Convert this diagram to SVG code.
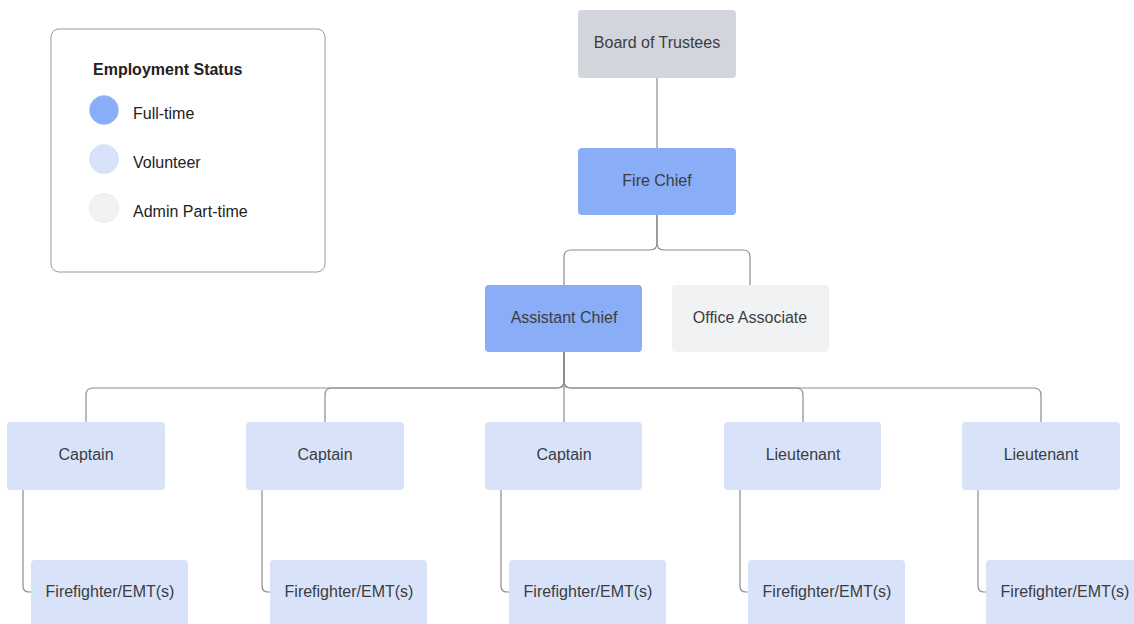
<svg xmlns="http://www.w3.org/2000/svg" width="1134" height="624" viewBox="0 0 1134 624">
<style>
.box{stroke:none}
.ft{fill:#8AADF7}
.vol{fill:#D8E3FA}
.adm{fill:#F1F2F4}
.brd{fill:#D2D5DC}
.lbl{font-family:"Liberation Sans",Arial,sans-serif;font-size:16px;fill:#3C3C40;text-anchor:middle}
.conn path{fill:none;stroke:#8C8C8C;stroke-width:1.2}
.leg{font-family:"Liberation Sans",Arial,sans-serif;font-size:16px;fill:#222}
</style>
<rect width="1134" height="624" fill="#FFFFFF"/>
<g id="legend">
<rect x="51" y="29" width="274" height="243" rx="8" fill="#FFFFFF" stroke="#9A9A9A" stroke-width="1"/>
<text x="93" y="75" class="leg" font-weight="bold" font-size="15.7">Employment Status</text>
<circle cx="104" cy="110" r="14.5" class="ft" stroke="#9FB8EE" stroke-width="0.5"/>
<text x="133" y="119" class="leg">Full-time</text>
<circle cx="104" cy="159" r="14.5" class="vol" stroke="#C6D2EC" stroke-width="0.5"/>
<text x="133" y="168" class="leg">Volunteer</text>
<circle cx="104" cy="208" r="14.5" class="adm" stroke="#DADBDE" stroke-width="0.5"/>
<text x="133" y="217" class="leg">Admin Part-time</text>
</g>
<g class="conn" id="connectors">
<path d="M657,78 V148"/>
<path d="M657,215 V243 Q657,250 650,250 H571 Q564,250 564,257 V285"/>
<path d="M657,215 V243 Q657,250 664,250 H743 Q750,250 750,257 V285"/>
<path d="M564,352 V381 Q564,388 557,388 H93 Q86,388 86,395 V422"/>
<path d="M564,352 V381 Q564,388 557,388 H332 Q325,388 325,395 V422"/>
<path d="M564,352 V422"/>
<path d="M564,352 V381 Q564,388 571,388 H796 Q803,388 803,395 V422"/>
<path d="M564,352 V381 Q564,388 571,388 H1034 Q1041,388 1041,395 V422"/>
<path d="M23,490 V586 Q23,592 29,592 H31"/>
<path d="M262,490 V586 Q262,592 268,592 H270"/>
<path d="M501,490 V586 Q501,592 507,592 H509"/>
<path d="M740,490 V586 Q740,592 746,592 H748"/>
<path d="M978,490 V586 Q978,592 984,592 H986"/>
</g>
<g id="board"><rect x="578" y="10" width="158" height="68" rx="4" class="box brd"/><text x="657" y="48" class="lbl">Board of Trustees</text></g>
<g id="firechief"><rect x="578" y="148" width="158" height="67" rx="4" class="box ft"/><text x="657" y="186" class="lbl">Fire Chief</text></g>
<g id="asstchief"><rect x="485" y="285" width="157" height="67" rx="4" class="box ft"/><text x="564" y="323" class="lbl">Assistant Chief</text></g>
<g id="office"><rect x="672" y="285" width="157" height="67" rx="4" class="box adm"/><text x="750" y="323" class="lbl">Office Associate</text></g>
<g id="captain1"><rect x="7" y="422" width="158" height="68" rx="4" class="box vol"/><text x="86" y="460" class="lbl">Captain</text></g>
<g id="captain2"><rect x="246" y="422" width="158" height="68" rx="4" class="box vol"/><text x="325" y="460" class="lbl">Captain</text></g>
<g id="captain3"><rect x="485" y="422" width="157" height="68" rx="4" class="box vol"/><text x="564" y="460" class="lbl">Captain</text></g>
<g id="lieutenant1"><rect x="724" y="422" width="157" height="68" rx="4" class="box vol"/><text x="803" y="460" class="lbl">Lieutenant</text></g>
<g id="lieutenant2"><rect x="962" y="422" width="158" height="68" rx="4" class="box vol"/><text x="1041" y="460" class="lbl">Lieutenant</text></g>
<g id="ff1"><rect x="31" y="560" width="157" height="70" rx="4" class="box vol"/><text x="110" y="597" class="lbl">Firefighter/EMT(s)</text></g>
<g id="ff2"><rect x="270" y="560" width="157" height="70" rx="4" class="box vol"/><text x="349" y="597" class="lbl">Firefighter/EMT(s)</text></g>
<g id="ff3"><rect x="509" y="560" width="157" height="70" rx="4" class="box vol"/><text x="588" y="597" class="lbl">Firefighter/EMT(s)</text></g>
<g id="ff4"><rect x="748" y="560" width="157" height="70" rx="4" class="box vol"/><text x="827" y="597" class="lbl">Firefighter/EMT(s)</text></g>
<g id="ff5"><rect x="986" y="560" width="157" height="70" rx="4" class="box vol"/><text x="1065" y="597" class="lbl">Firefighter/EMT(s)</text></g>
</svg>
